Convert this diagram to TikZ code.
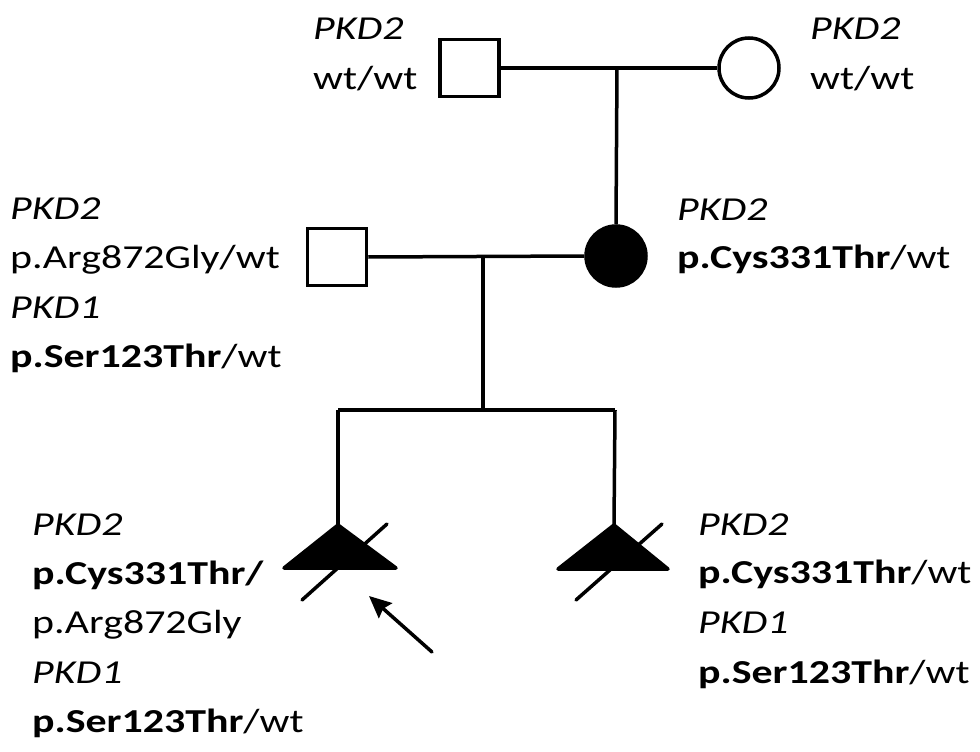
\documentclass[tikz,border=0pt]{standalone}
\usepackage{fontspec}
\setmainfont[FakeStretch=1.25]{Carlito}
\usetikzlibrary{arrows.meta}
\begin{document}
\begin{tikzpicture}[x=1pt,y=-1pt,
  ln/.style={line width=3.5pt},
  malebox/.style={draw,line width=3.5pt,rectangle,minimum width=59pt,minimum height=57pt,inner sep=0pt},
  femalebox/.style={draw,line width=3.5pt,circle,minimum size=60pt,inner sep=0pt},
  lbl/.style={anchor=base west,inner sep=0pt,font=\fontsize{33.5}{49}\selectfont},
  tri/.style={fill=black,draw=black,line width=3.5pt,line join=round},
  slash/.style={line width=3.5pt,line cap=round}]
\useasboundingbox (0,0) rectangle (980,752);
% individuals
\node[malebox] (gf) at (469.5,68) {};
\node[femalebox] (gm) at (749,68) {};
\node[femalebox,fill=black] (mo) at (616,256) {};
\node[malebox] (fa) at (337,257) {};
% couple and descent lines
\coordinate (m1) at (617,68);
\coordinate (m2) at (483,257);
\coordinate (s) at (483,410);
\coordinate (sL) at (338,410);
\coordinate (sR) at (615,410);
\draw[ln] (gf.east) -- (gm.west);
\draw[ln] (m1) -- (mo.north);
\draw[ln] (fa.east) -- (mo.west);
\draw[ln] (m2) -- (s);
\draw[ln] (sL) -- (sR);
% triangles
\coordinate (t1) at (338,525);
\coordinate (t1a) at (284,568);
\coordinate (t1b) at (396,568);
\coordinate (t2) at (614,525);
\coordinate (t2a) at (558,569);
\coordinate (t2b) at (668,569);
\draw[ln] (sL) -- (t1);
\draw[ln] (sR) -- (t2);
\draw[tri] (t1) -- (t1a) -- (t1b) -- cycle;
\draw[tri] (t2) -- (t2a) -- (t2b) -- cycle;
\coordinate (d1a) at (302,600);
\coordinate (d1b) at (387,524);
\coordinate (d2a) at (576,600);
\coordinate (d2b) at (662,524);
\draw[slash] (d1a) -- (d1b);
\draw[slash] (d2a) -- (d2b);
% proband arrow
\coordinate (ar0) at (432,652);
\coordinate (ar1) at (369,596);
\draw[line width=3.5pt,line cap=round,-{Stealth[length=22pt,width=20pt,inset=3pt]}] (ar0) -- (ar1);
% labels
\node[lbl] (gfa) at (313,40) {\itshape PKD2};
\node[lbl] (gfb) at (313,89) {wt/wt};
\node[lbl] (gma) at (810,40) {\itshape PKD2};
\node[lbl] (gmb) at (810,89) {wt/wt};
\node[lbl] (faa) at (10,219) {\itshape PKD2};
\node[lbl] (fab) at (10,268) {p.Arg872Gly/wt};
\node[lbl] (fac) at (10,318) {\itshape PKD1};
\node[lbl] (fad) at (10,367) {\textbf{p.Ser123Thr}/wt};
\node[lbl] (moa) at (677,220) {\itshape PKD2};
\node[lbl] (mob) at (677,268) {\textbf{p.Cys331Thr}/wt};
\node[lbl] (p1a) at (32,535) {\itshape PKD2};
\node[lbl] (p1b) at (32,584) {\textbf{p.Cys331Thr/}};
\node[lbl] (p1c) at (32,633) {p.Arg872Gly};
\node[lbl] (p1d) at (32,683) {\itshape PKD1};
\node[lbl] (p1e) at (32,732) {\textbf{p.Ser123Thr}/wt};
\node[lbl] (p2a) at (698,535) {\itshape PKD2};
\node[lbl] (p2b) at (698,583) {\textbf{p.Cys331Thr}/wt};
\node[lbl] (p2c) at (698,633) {\itshape PKD1};
\node[lbl] (p2d) at (698,683) {\textbf{p.Ser123Thr}/wt};
\end{tikzpicture}
\end{document}
